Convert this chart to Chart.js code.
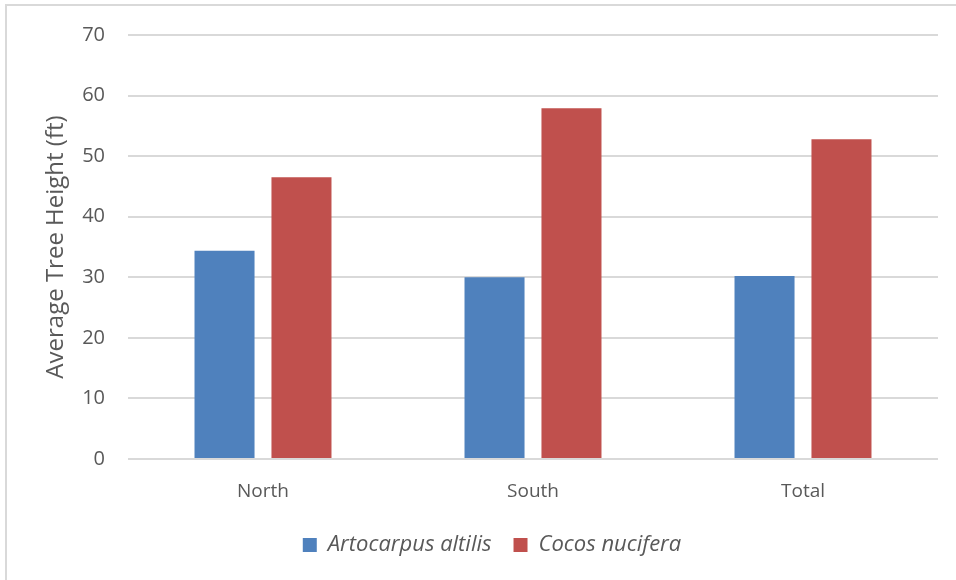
<!DOCTYPE html>
<html>
<head>
<meta charset="utf-8">
<script src="https://cdn.jsdelivr.net/npm/chart.js@4.4.1/dist/chart.umd.min.js"></script>
<style>
  html, body { margin: 0; padding: 0; background: #fff; }
  #wrap { position: relative; width: 956px; height: 580px; }
</style>
</head>
<body>
<div id="wrap"><canvas id="treeChart"></canvas></div>
<script>
// data
const regions = ['North', 'South', 'Total'];
const artocarpusHeights = [34.4, 30.0, 30.2];
const cocosHeights = [46.5, 57.9, 52.8];
const yMin = 0, yMax = 70, yStep = 10;

Chart.defaults.font.family = "'Open Sans', sans-serif";
Chart.defaults.color = '#595959';

// light grey frame on the left and top, like the Excel chart area
const framePlugin = {
  id: 'frame',
  afterLayout(chart) {
    // legend in the reference sits a bit right of the canvas centre
    chart.legend.left += 23;
    chart.legend.right += 23;
  },
  beforeDraw(chart) {
    const c = chart.ctx;
    c.save();
    c.fillStyle = '#fff';
    c.fillRect(0, 0, chart.width, chart.height);
    c.strokeStyle = '#d9d9d9';
    c.lineWidth = 2;
    c.beginPath();
    c.moveTo(6, chart.height);
    c.lineTo(6, 5);
    c.lineTo(chart.width, 5);
    c.stroke();
    c.restore();
  }
};

const ctx = document.getElementById('treeChart').getContext('2d');
const treeChart = new Chart(ctx, {
  type: 'bar',
  data: {
    labels: regions,
    datasets: [
      {
        label: 'Artocarpus altilis',
        data: artocarpusHeights,
        backgroundColor: '#4f81bd',
        borderWidth: 0,
        categoryPercentage: 0.57,
        barPercentage: 0.78
      },
      {
        label: 'Cocos nucifera',
        data: cocosHeights,
        backgroundColor: '#c0504d',
        borderWidth: 0,
        categoryPercentage: 0.57,
        barPercentage: 0.78
      }
    ]
  },
  options: {
    responsive: true,
    maintainAspectRatio: false,
    animation: false,
    layout: { padding: { left: 0, right: 18, top: 35, bottom: 14 } },
    plugins: {
      tooltip: { enabled: false },
      legend: {
        position: 'bottom',
        labels: {
          boxWidth: 14,
          boxHeight: 14,
          padding: 22,
          color: '#595959',
          font: { size: 22, style: 'italic' }
        }
      }
    },
    scales: {
      x: {
        grid: { display: false, drawTicks: false },
        border: { display: false },
        ticks: { padding: 21, font: { size: 19 }, color: '#595959' },
        afterFit: (scale) => { scale.height = 53; }
      },
      y: {
        min: yMin,
        max: yMax,
        ticks: { stepSize: yStep, padding: 23, font: { size: 20 }, color: '#595959' },
        grid: { color: '#d9d9d9', lineWidth: 2, drawTicks: false },
        border: { display: false },
        title: {
          display: true,
          text: 'Average Tree Height (ft)',
          color: '#595959',
          font: { size: 24 },
          padding: { top: 42, bottom: 0 }
        },
        afterFit: (scale) => { scale.width = 128; }
      }
    }
  },
  plugins: [framePlugin]
});
</script>
</body>
</html>
